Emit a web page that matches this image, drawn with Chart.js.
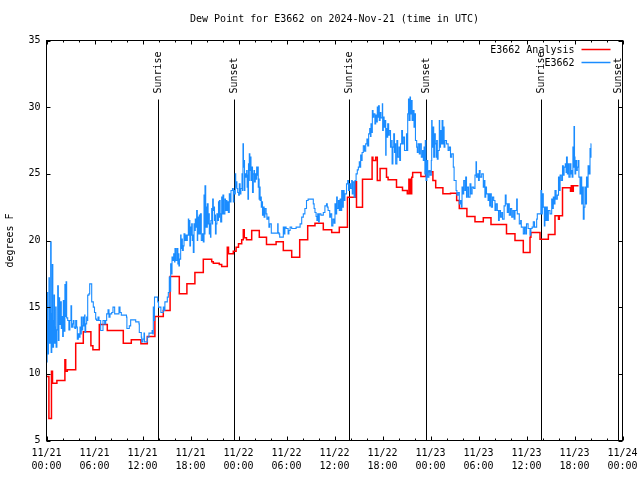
<!DOCTYPE html>
<html><head><meta charset="utf-8">
<script src="https://cdn.jsdelivr.net/npm/chart.js@4/dist/chart.umd.min.js"></script>
<style>html,body{margin:0;padding:0;background:#fff}canvas{display:block}</style>
</head><body>
<canvas id="c" width="640" height="480"></canvas>
<script>
const titleText = 'Dew Point for E3662 on 2024-Nov-21 (time in UTC)';
const yAxisTitle = 'degrees F';
const seriesNames = ['E3662 Analysis', 'E3662'];
const seriesColors = ['#ff0000', '#1a8cff'];
const xTickLabels = [['11/21','00:00'],['11/21','06:00'],['11/21','12:00'],['11/21','18:00'],
  ['11/22','00:00'],['11/22','06:00'],['11/22','12:00'],['11/22','18:00'],
  ['11/23','00:00'],['11/23','06:00'],['11/23','12:00'],['11/23','18:00'],['11/24','00:00']];
const yTickValues = [5, 10, 15, 20, 25, 30, 35];
const eventHours = [13.95, 23.45, 37.83, 47.45, 61.79, 71.45];
const eventNames = ['Sunrise', 'Sunset', 'Sunrise', 'Sunset', 'Sunrise', 'Sunset'];

const anaHours = [0.0,0.3,0.62,0.75,1.3,2.3,2.4,2.6,3.65,4.6,5.55,5.8,6.6,7.6,9.6,10.6,11.8,12.6,13.55,14.6,
  15.45,16.6,17.55,18.55,19.6,20.65,20.85,21.6,21.9,22.6,22.75,23.35,23.7,24.0,24.4,24.6,24.72,25.0,25.65,26.6,
  27.5,28.7,29.6,30.65,31.65,32.65,33.56,34.6,35.65,36.6,37.62,38.65,38.75,39.5,40.7,40.8,41.15,41.35,41.7,42.5,
  42.7,43.75,44.5,45.1,45.3,45.35,45.4,45.45,45.5,45.55,45.65,45.77,46.8,47.4,48.3,48.65,49.55,50.5,51.27,51.6,
  52.55,53.56,54.6,55.56,57.5,58.56,59.6,60.44,60.55,61.69,62.73,63.56,64.0,64.1,64.5,65.5,65.6,65.7,65.85,66.5];
const anaDew = [9.8,6.65,10.2,9.3,9.5,11.05,10.2,10.3,12.3,13.15,12.1,11.8,13.7,13.25,12.3,12.55,12.25,12.8,14.3,14.75,
  17.3,16.0,16.75,17.6,18.6,18.4,18.3,18.2,18.05,19.5,19.0,19.2,19.5,19.75,20.05,20.8,20.2,20.05,20.75,20.25,
  19.7,19.9,19.25,18.75,20.05,21.1,21.3,20.8,20.6,21.0,23.25,24.4,22.5,24.6,26.25,26.0,26.25,24.5,25.4,24.75,
  24.55,24.0,23.75,23.5,24.6,23.5,24.6,23.5,24.6,23.5,24.75,25.1,24.8,25.15,24.5,23.95,23.5,23.55,23.0,22.4,
  21.8,21.4,21.7,21.2,20.5,20.0,19.1,20.25,20.6,20.1,20.45,21.85,21.6,21.85,23.95,23.7,24.1,23.7,24.1,24.1];

const obsHours = [0.0,0.04,0.08,0.14,0.25,0.31,0.36,0.45,0.52,0.58,0.66,0.73,0.79,0.88,0.94,1.0,1.08,1.15,1.2,1.3,
  1.4,1.48,1.56,1.64,1.72,1.85,1.95,2.02,2.1,2.2,2.3,2.36,2.45,2.52,2.65,2.8,2.92,3.06,3.14,3.25,
  3.35,3.44,3.55,3.65,3.77,3.85,3.98,4.06,4.19,4.27,4.35,4.44,4.52,4.6,4.69,4.77,4.81,4.9,5.02,5.1,
  5.15,5.3,5.4,5.65,5.85,6.0,6.15,6.27,6.44,6.56,6.77,7.06,7.27,7.4,7.52,7.69,7.81,7.94,8.15,8.31,
  8.52,9.06,9.19,9.35,10.0,10.05,10.35,10.52,11.15,11.56,11.6,11.85,11.9,12.05,12.19,12.25,12.6,12.81,13.2,13.3,
  13.35,13.42,13.5,13.9,14.0,14.3,14.6,14.7,14.8,15.1,15.23,15.35,15.45,15.52,15.6,15.69,15.8,15.9,16.0,16.06,
  16.2,16.35,16.42,16.48,16.55,16.62,16.77,16.82,16.9,16.98,17.1,17.19,17.3,17.4,17.5,17.6,17.73,17.78,17.85,17.92,
  18.0,18.1,18.15,18.22,18.27,18.35,18.44,18.52,18.6,18.7,18.77,18.85,18.9,19.0,19.1,19.18,19.25,19.35,19.5,19.6,
  19.69,19.75,19.81,19.9,19.95,20.05,20.1,20.2,20.25,20.35,20.4,20.5,20.55,20.65,20.72,20.77,20.85,20.92,21.0,21.06,
  21.12,21.2,21.3,21.4,21.5,21.57,21.62,21.7,21.77,21.9,22.0,22.05,22.15,22.3,22.37,22.45,22.55,22.6,22.73,22.85,
  22.92,23.06,23.25,23.35,23.42,23.55,23.6,23.65,23.72,23.8,23.9,24.02,24.1,24.2,24.3,24.44,24.5,24.56,24.62,24.69,
  24.75,24.8,24.9,25.02,25.08,25.12,25.18,25.25,25.3,25.35,25.42,25.5,25.56,25.65,25.75,25.85,25.94,26.0,26.1,26.2,
  26.27,26.35,26.42,26.47,26.52,26.58,26.65,26.7,26.78,26.85,26.9,27.0,27.1,27.2,27.3,27.45,27.55,27.7,27.8,27.9,
  28.1,28.9,28.95,29.05,29.15,29.6,29.7,29.8,29.95,30.2,30.3,30.45,30.65,31.2,31.7,31.9,32.1,32.3,32.5,32.7,
  33.35,33.45,33.56,33.7,33.8,33.9,34.0,34.1,34.3,34.6,34.8,35.0,35.1,35.2,35.4,35.5,35.65,35.8,35.95,36.06,
  36.15,36.27,36.35,36.5,36.6,36.7,36.8,36.9,36.97,37.1,37.2,37.3,37.5,37.65,37.75,37.85,38.0,38.15,38.22,38.3,
  38.45,38.56,38.7,38.85,38.98,39.1,39.2,39.27,39.35,39.45,39.6,39.75,39.9,40.05,40.15,40.27,40.4,40.5,40.56,40.65,
  40.73,40.82,40.9,41.05,41.15,41.25,41.35,41.42,41.5,41.6,41.7,41.8,41.98,42.02,42.1,42.2,42.3,42.4,42.45,42.55,
  42.65,42.77,42.85,43.0,43.15,43.2,43.3,43.4,43.5,43.56,43.65,43.8,43.9,44.06,44.15,44.25,44.4,44.5,44.6,44.75,
  45.0,45.08,45.15,45.25,45.32,45.44,45.5,45.6,45.7,45.8,45.94,46.05,46.12,46.27,46.35,46.45,46.6,46.7,46.85,47.0,
  47.1,47.2,47.3,47.35,47.44,47.55,47.65,47.8,47.95,48.1,48.15,48.2,48.3,48.4,48.5,48.6,48.7,48.77,48.85,48.95,
  49.1,49.15,49.25,49.35,49.45,49.55,49.6,49.7,49.8,50.0,50.2,50.35,50.5,50.65,50.85,50.95,51.2,51.3,51.45,51.6,
  51.75,51.85,51.94,52.05,52.15,52.3,52.4,52.5,52.6,52.75,52.94,53.05,53.2,53.4,53.56,53.69,53.75,53.9,54.0,54.1,
  54.2,54.4,54.6,54.7,54.8,54.9,55.0,55.2,55.3,55.4,55.5,55.6,55.75,55.9,56.06,56.2,56.35,56.5,56.6,56.75,
  56.9,57.0,57.2,57.35,57.45,57.6,57.73,57.85,58.0,58.15,58.3,58.45,58.56,58.77,58.85,59.1,59.27,59.35,59.6,59.75,
  59.9,60.0,60.2,60.44,60.55,60.7,60.85,61.0,61.27,61.35,61.8,61.9,61.98,62.1,62.23,62.3,62.4,62.5,62.6,62.73,
  62.94,63.15,63.25,63.35,63.45,63.56,63.7,63.85,64.0,64.1,64.2,64.35,64.5,64.6,64.7,64.85,64.95,65.0,65.1,65.2,
  65.3,65.45,65.55,65.65,65.7,65.8,65.88,65.94,66.0,66.06,66.15,66.25,66.35,66.45,66.55,66.69,66.8,66.9,67.0,67.1,
  67.2,67.3,67.4,67.5,67.6,67.7,67.8,67.94,68.0,68.06,68.1];
const obsDew = [13.0,10.9,16.1,11.5,14.0,17.2,12.3,15.0,19.9,11.6,14.5,18.2,12.0,14.0,15.9,12.3,13.5,15.0,12.0,13.3,
  16.6,12.5,15.7,13.7,15.4,13.4,14.3,12.8,15.5,13.2,16.7,14.3,16.9,14.2,14.0,13.3,14.0,15.1,13.5,13.75,
  14.0,13.5,13.4,14.0,13.5,12.6,13.0,12.75,13.5,13.0,14.25,13.3,13.6,14.25,13.6,14.4,13.1,13.75,14.25,14.0,
  15.9,16.0,16.75,15.4,15.0,14.6,14.1,14.0,14.25,14.0,13.25,14.0,13.75,14.0,14.5,14.8,14.25,14.5,14.6,15.0,
  14.5,15.0,14.6,14.4,14.25,13.4,13.6,14.05,13.9,13.75,13.1,12.75,12.4,12.6,13.05,12.4,12.75,13.05,13.25,13.0,
  15.0,14.0,15.75,15.4,15.0,14.6,15.0,14.75,15.4,15.75,16.1,17.25,16.2,18.25,17.5,18.75,18.5,19.0,18.4,19.4,
  18.5,19.4,18.25,19.0,18.1,18.6,20.4,19.4,20.1,19.25,19.6,20.5,20.0,20.4,20.0,20.4,21.6,20.4,21.5,19.6,
  21.0,20.4,21.25,20.0,20.4,19.1,21.25,20.75,21.6,21.0,22.25,20.0,21.75,20.5,21.9,20.5,22.0,20.0,20.5,19.9,
  23.4,20.5,24.1,21.0,22.5,21.0,22.75,21.25,22.0,20.5,21.25,20.25,21.5,22.4,21.25,23.1,22.25,22.5,21.5,21.9,
  20.5,21.25,22.0,21.5,22.9,21.75,23.0,22.0,21.4,23.25,22.0,23.4,22.0,23.1,22.25,23.0,22.25,22.9,22.1,23.5,
  22.9,23.75,23.9,22.9,23.75,23.5,25.0,24.0,24.4,23.9,23.6,23.4,24.25,23.5,23.9,25.0,23.75,27.25,25.5,26.0,
  23.75,25.0,24.75,25.25,24.0,24.9,23.1,25.75,24.5,26.5,25.25,26.25,24.5,25.5,23.6,25.0,25.25,24.4,25.0,24.6,
  25.5,24.9,25.5,24.0,24.6,23.1,24.0,23.0,23.25,22.5,22.9,21.9,22.5,21.75,22.4,22.0,21.6,21.75,21.0,21.25,
  20.55,21.25,20.6,20.5,20.25,21.0,20.5,21.0,20.9,20.5,20.75,21.0,20.9,21.0,21.25,21.75,22.0,22.4,23.0,23.1,
  22.75,22.4,22.1,21.8,21.5,22.0,21.4,22.0,21.9,22.1,22.6,22.75,22.5,22.25,21.75,22.0,21.1,21.6,21.3,22.75,
  22.0,23.25,22.4,23.0,22.25,23.1,22.25,23.75,22.5,23.75,23.0,23.5,24.25,24.5,23.75,24.25,23.9,24.5,23.5,24.4,
  23.25,24.5,25.0,25.3,25.5,25.9,25.5,26.4,26.0,26.6,27.1,26.7,27.25,27.6,27.1,28.0,28.4,27.8,28.75,28.1,
  29.75,29.25,29.5,28.75,29.4,28.9,30.0,29.25,30.1,29.0,29.6,29.2,30.25,28.25,29.25,28.5,29.0,26.4,28.4,27.75,
  28.75,27.9,28.25,27.0,27.5,25.75,27.0,28.0,26.6,27.25,25.75,27.5,26.25,27.0,26.0,27.25,28.25,27.25,27.75,26.75,
  28.0,26.75,29.5,30.6,29.0,30.75,29.5,30.5,29.0,29.75,28.5,29.5,27.5,27.0,26.6,27.25,26.5,27.25,26.25,26.75,
  26.0,27.0,25.0,27.5,24.5,26.0,24.75,25.25,24.9,26.0,29.0,27.0,28.5,26.25,28.0,27.25,26.25,27.5,26.1,26.75,
  29.0,27.0,28.25,27.25,29.0,27.25,28.5,27.0,27.5,27.25,26.75,27.0,26.25,26.5,25.5,24.5,23.75,23.4,23.6,22.75,
  23.0,22.5,24.0,23.5,24.5,23.75,24.75,23.25,24.0,23.25,24.25,23.5,24.0,23.9,24.9,25.9,24.75,25.0,24.5,25.25,
  24.75,25.0,24.0,24.5,23.25,24.0,23.5,23.0,23.5,22.6,23.5,22.5,23.25,23.0,22.25,22.75,22.25,21.5,22.25,21.75,
  22.1,21.6,22.6,23.4,22.75,22.1,22.75,21.9,22.4,21.75,22.25,21.6,22.25,23.1,22.0,21.25,21.5,21.0,20.5,21.0,
  20.5,21.25,20.9,20.4,20.9,21.0,21.4,21.0,21.6,22.0,23.75,22.0,23.5,22.5,21.1,22.5,21.5,22.5,21.5,22.25,
  22.0,23.1,22.4,23.25,22.75,23.75,23.1,23.4,24.75,23.75,24.9,24.5,25.6,24.9,25.5,25.75,25.1,26.25,25.0,25.75,
  24.75,25.75,25.0,25.25,24.75,27.0,25.5,28.55,26.25,25.0,26.0,25.25,25.5,26.0,24.75,23.5,24.75,22.75,24.0,21.6,
  22.5,24.0,22.75,24.75,24.0,25.6,25.0,26.9,26.25,27.25,27.25];

const FONT = "'DejaVu Sans Mono', 'Liberation Mono', monospace";
Chart.defaults.font.family = FONT;
Chart.defaults.font.size = 10;
Chart.defaults.color = '#000';

const decor = {
  id: 'decor',
  beforeDatasetsDraw(chart) {
    const {ctx, chartArea: a, scales: {x}} = chart;
    ctx.save();
    ctx.strokeStyle = '#000';
    ctx.lineWidth = 1;
    eventHours.forEach(h => {
      const px = Math.round(x.getPixelForValue(h)) + 0.5;
      ctx.beginPath();
      ctx.moveTo(px, a.bottom);
      ctx.lineTo(px, a.top + 59);
      ctx.stroke();
    });
    ctx.restore();
  },
  afterDraw(chart) {
    const {ctx, chartArea: a, scales: {x, y}} = chart;
    ctx.save();
    ctx.strokeStyle = '#000';
    ctx.lineWidth = 1;
    ctx.strokeRect(a.left, a.top, a.right - a.left, a.bottom - a.top);
    ctx.beginPath();
    for (let h = 0; h <= 72; h += 2) {
      const px = Math.round(x.getPixelForValue(h)) + 0.5;
      const len = (h % 6 === 0) ? 4 : 2;
      ctx.moveTo(px, a.bottom); ctx.lineTo(px, a.bottom - len);
      ctx.moveTo(px, a.top); ctx.lineTo(px, a.top + len);
    }
    yTickValues.forEach(v => {
      const py = Math.round(y.getPixelForValue(v)) + 0.5;
      ctx.moveTo(a.left, py); ctx.lineTo(a.left + 4, py);
      ctx.moveTo(a.right, py); ctx.lineTo(a.right - 4, py);
    });
    ctx.stroke();
    ctx.fillStyle = '#000';
    ctx.font = '10px ' + FONT;
    eventHours.forEach((h, i) => {
      const px = Math.round(x.getPixelForValue(h)) + 0.5;
      ctx.save();
      ctx.translate(px, a.top + 53);
      ctx.rotate(-Math.PI / 2);
      ctx.textAlign = 'left';
      ctx.textBaseline = 'middle';
      ctx.fillText(eventNames[i], 0, 0);
      ctx.restore();
    });
    ctx.textAlign = 'center';
    ctx.textBaseline = 'middle';
    ctx.fillText(titleText, (a.left + a.right) / 2, 19);
    ctx.textAlign = 'right';
    seriesNames.forEach((name, i) => {
      const ly = a.top + 10 + i * 13;
      ctx.fillStyle = '#000';
      ctx.fillText(name, a.right - 48, ly);
      ctx.strokeStyle = seriesColors[i];
      ctx.lineWidth = 1.5;
      ctx.beginPath();
      ctx.moveTo(a.right - 41, ly - 1);
      ctx.lineTo(a.right - 12, ly - 1);
      ctx.stroke();
    });
    ctx.restore();
  }
};

const toPts = (xs, ys) => xs.map((t, i) => ({x: t, y: ys[i]}));

new Chart(document.getElementById('c'), {
  type: 'line',
  data: {
    datasets: [
      {label: seriesNames[1], data: toPts(obsHours, obsDew), borderColor: seriesColors[1],
       borderWidth: 1.1, pointRadius: 0, stepped: true, order: 0},
      {label: seriesNames[0], data: toPts(anaHours, anaDew), borderColor: seriesColors[0],
       borderWidth: 1.5, pointRadius: 0, stepped: true, order: 1}
    ]
  },
  options: {
    responsive: false,
    devicePixelRatio: 1,
    animation: false,
    layout: {padding: {left: 0, right: 17.5, top: 40.5, bottom: 0}},
    plugins: {legend: {display: false}, tooltip: {enabled: false}, title: {display: false}},
    scales: {
      x: {
        type: 'linear', min: 0, max: 72,
        grid: {display: false, drawTicks: false},
        border: {display: false},
        ticks: {stepSize: 6, autoSkip: false, maxRotation: 0, padding: 6,
          font: {size: 10, lineHeight: 1.3},
          callback: v => xTickLabels[Math.round(v / 6)]},
        afterFit: s => { s.height = 39.5; s.paddingLeft = 0; s.paddingRight = 0; }
      },
      y: {
        min: 5, max: 35,
        grid: {display: false, drawTicks: false},
        border: {display: false},
        ticks: {stepSize: 5, padding: 6, font: {size: 10}},
        title: {display: true, text: yAxisTitle, font: {size: 10}, padding: {top: 4, bottom: 0}},
        afterFit: s => { s.width = 46.5; s.paddingTop = 0; s.paddingBottom = 0; }
      }
    }
  },
  plugins: [decor]
});
</script>
</body></html>
